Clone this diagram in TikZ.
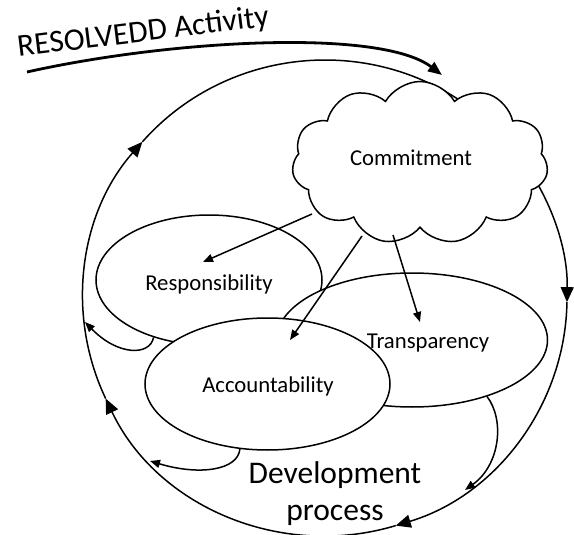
\documentclass[tikz,border=0pt]{standalone}
\usepackage{fontspec}
\setmainfont{Carlito}
\usetikzlibrary{shapes.geometric,shapes.symbols,arrows.meta}
\begin{document}
\begin{tikzpicture}[x=1pt,y=-1pt,
  line width=1.5pt,
  blob/.style={draw,fill=white,ellipse,inner sep=0pt},
  lbl/.style={anchor=base,inner sep=0pt,font=\fontsize{22.7}{26}\selectfont},
  big/.style={font=\fontsize{31.5}{36}\selectfont,inner sep=0pt},
  bigtip/.style={-{Triangle[length=15pt,width=13pt]}},
  smalltip/.style={-{Triangle[length=10pt,width=8pt]}},
  bigarc/.style={x radius=242,y radius=238}
]
\useasboundingbox (0,0) rectangle (574,535);
\coordinate (O) at (325,298);
% big cycle (clockwise)
\draw[bigtip] ([shift={(-40:242 and 238)}]O) arc[start angle=-40,end angle=1,bigarc];
\draw[bigtip] ([shift={(1:242 and 238)}]O) arc[start angle=1,end angle=73,bigarc];
\draw[bigtip] ([shift={(73:242 and 238)}]O) arc[start angle=73,end angle=155,bigarc];
\draw[bigtip] ([shift={(155:242 and 238)}]O) arc[start angle=155,end angle=221,bigarc];
\draw ([shift={(221:242 and 238)}]O) arc[start angle=221,end angle=305,bigarc];
% ellipses
\node[blob,minimum width=226pt,minimum height=130pt] (resp) at (209,280) {};
\node[blob,minimum width=271pt,minimum height=134pt] (trans) at (412,340) {};
\node[blob,minimum width=245pt,minimum height=132pt] (acc) at (267.5,384) {};
% cloud
\node[cloud,cloud puffs=11,cloud puff arc=120,cloud ignores aspect,draw,fill=white,
      minimum width=256pt,minimum height=163pt,inner sep=0pt] (commit) at (420,163) {};
% labels
\node[lbl] (tcommit) at (411,166) {Commitment};
\node[lbl] (tresp) at (209,290) {Responsibility};
\node[lbl] (ttrans) at (428,348) {Transparency};
\node[lbl] (tacc) at (268,392) {Accountability};
\node[big,anchor=base] (tdev) at (335,483) {Development};
\node[big,anchor=base] (tproc) at (335,520) {process};
\node[big,anchor=base west,rotate=7] (tres) at (18,57) {RESOLVEDD Activity};
% RESOLVEDD arrow
\coordinate (ra) at (27,72);
\coordinate (rb) at (442,75);
\draw[line width=2.8pt,-{Triangle[length=14pt,width=11pt]}] (ra) .. controls (170,40) and (380,28) .. (rb);
% cloud arrows
\coordinate (c1) at (312,214); \coordinate (e1) at (203,262);
\coordinate (c2) at (362,236); \coordinate (e2) at (290,340);
\coordinate (c3) at (393,235); \coordinate (e3) at (420,322);
\draw[smalltip] (c1) -- (e1);
\draw[smalltip] (c2) -- (e2);
\draw[smalltip] (c3) -- (e3);
% loops back to the cycle
\coordinate (la) at (85,322);
\coordinate (lb) at (150,461);
\coordinate (lc) at (465,490);
\draw[smalltip] (resp.226.5) .. controls (150,356) and (118,356) .. (la);
\draw[smalltip] (acc.247.4) .. controls (238,470) and (200,476) .. (lb);
\draw[smalltip] (trans.-37.3) .. controls (505,420) and (500,465) .. (lc);
\end{tikzpicture}
\end{document}
